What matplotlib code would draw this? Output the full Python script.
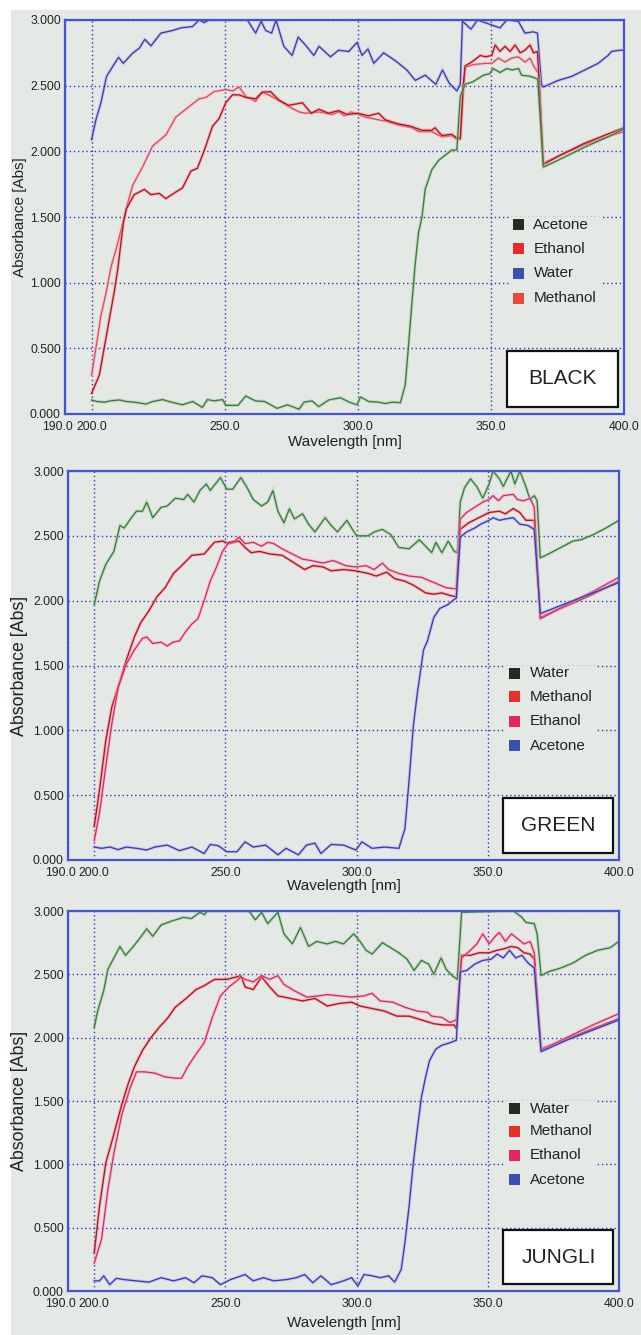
import matplotlib
matplotlib.use("Agg")
import matplotlib.pyplot as plt
from matplotlib.patches import Rectangle
from matplotlib.transforms import ScaledTranslation
import matplotlib.patheffects as pe

plt.rcParams['font.family'] = ['Liberation Sans', 'DejaVu Sans']

# ---------------- data ----------------
x_ticks = [190, 200, 250, 300, 350, 400]
x_tick_labels = ["190.0", "200.0", "250.0", "300.0", "350.0", "400.0"]
y_ticks = [0, 0.5, 1.0, 1.5, 2.0, 2.5, 3.0]
y_tick_labels = ["0.000", "0.500", "1.000", "1.500", "2.000", "2.500", "3.000"]
panel_titles = ["BLACK", "GREEN", "JUNGLI"]

# ---- Panel 1: BLACK ----
black_water_wl = [200, 201.6, 203.5, 205.6, 207.9, 210.1, 211.9, 215.4, 217.9, 220, 222.3, 226, 230.4, 233.5, 237.9,
                  240.4, 242.3, 244, 258.5, 261.6, 263.7, 265.4, 267.6, 269.3, 272.2, 275.3, 277.6, 280.3, 283.5,
                  285.4, 289.7, 292.8, 296.6, 299.7, 301.6, 303.8, 306, 309.7, 314.1, 318.4, 321.6, 325.3, 329.3,
                  331.8, 334.3, 337.2, 338.5, 339.3, 341, 342.5, 345, 353.4, 356, 360.3, 362.8, 365.9, 367.5, 369,
                  369.7, 375.3, 380.3, 385.3, 390.3, 394, 395.3, 398.4, 400]
black_water_abs = [2.09, 2.24, 2.37, 2.57, 2.645, 2.716, 2.67, 2.747, 2.785, 2.853, 2.803, 2.90, 2.92, 2.94, 2.95,
                   3.0, 2.98, 3.0, 3.0, 2.90, 2.99, 2.92, 2.90, 3.0, 2.80, 2.73, 2.87, 2.81, 2.73,
                   2.80, 2.72, 2.77, 2.76, 2.83, 2.73, 2.78, 2.67, 2.75, 2.69, 2.62, 2.54, 2.58, 2.51,
                   2.62, 2.52, 2.46, 2.51, 2.99, 2.96, 2.93, 3.0, 2.94, 3.0, 2.99, 2.90, 2.91, 2.90, 2.51,
                   2.49, 2.54, 2.57, 2.62, 2.67, 2.73, 2.76, 2.77, 2.77]

black_acetone_wl = [200, 202, 205, 207, 210.4, 213, 216, 220.4, 223, 226.6, 230, 234.1, 238, 241.6, 243.5, 246,
                    249.2, 250.4, 255, 257.9, 261.5, 265, 269.7, 273.6, 277.9, 279.8, 282.8, 285.3, 289.1, 293.5,
                    296.8, 299.7, 301, 304.1, 307.8, 310.4, 313, 316, 317.8, 318.8, 320.3, 321.6, 322.8, 324.1,
                    325.3, 327.8, 330.3, 332.8, 335.3, 337.2, 338.5, 340.3, 343.3, 347.2, 349.5, 350.9, 353.4,
                    355.9, 358, 360.4, 361.5, 365, 367.6, 369.7, 375, 385, 395, 400]
black_acetone_abs = [0.107, 0.095, 0.09, 0.10, 0.107, 0.095, 0.09, 0.076, 0.095, 0.11, 0.09, 0.07, 0.095, 0.05,
                     0.11, 0.10, 0.11, 0.066, 0.066, 0.137, 0.10, 0.095, 0.043, 0.07, 0.036, 0.09, 0.10, 0.056,
                     0.107, 0.124, 0.09, 0.07, 0.13, 0.095, 0.09, 0.08, 0.09, 0.086, 0.22, 0.46, 0.84, 1.15, 1.38,
                     1.50, 1.71, 1.86, 1.93, 1.97, 2.01, 2.01, 2.42, 2.51, 2.53, 2.58, 2.59, 2.63, 2.60, 2.63,
                     2.62, 2.63, 2.58, 2.57, 2.55, 1.88, 1.93, 2.03, 2.12, 2.17]

black_methanol_wl = [200, 202, 203.5, 205.4, 207.3, 209.8, 212.3, 213.5, 215.4, 219.1, 222.9, 227.9, 231.6, 236.6,
                     240.4, 242.9, 246, 250.4, 253, 255.4, 257.9, 261.6, 264.1, 266.5, 269.1, 274.1, 277.9, 280.4,
                     285.4, 290.3, 292.8, 295, 297.5, 302.9, 307.8, 310.3, 315.3, 320.3, 322.8, 327.8, 331.6,
                     335.3, 337.2, 338.5, 340.3, 343.3, 347.8, 350.3, 352.8, 355.3, 357.8, 360.3, 362.8, 364.7,
                     366.3, 368.1, 369.7, 375, 385, 395, 400]
black_methanol_abs = [0.297, 0.55, 0.75, 0.92, 1.12, 1.30, 1.50, 1.60, 1.74, 1.88, 2.04, 2.125, 2.26, 2.34,
                      2.40, 2.41, 2.455, 2.47, 2.46, 2.49, 2.42, 2.38, 2.45, 2.43, 2.40, 2.34, 2.30, 2.29,
                      2.30, 2.28, 2.30, 2.27, 2.30, 2.26, 2.24, 2.23, 2.20, 2.18, 2.15, 2.15, 2.11,
                      2.12, 2.09, 2.09, 2.64, 2.66, 2.67, 2.67, 2.71, 2.68, 2.71, 2.72, 2.68, 2.71,
                      2.64, 2.59, 1.91, 1.96, 2.05, 2.12, 2.15]

black_ethanol_wl = [200, 202.9, 204.8, 206.6, 208.5, 209.8, 211.9, 213, 216, 219.8, 222.3, 225.4, 227.9, 231.6,
                    234.1, 237.3, 239.7, 242.2, 245.4, 247.9, 250.4, 252.9, 255.4, 258, 261.6, 264.1, 267.2, 270.4,
                    274, 279.2, 282.5, 285.4, 289, 292.8, 296, 300, 304, 307.8, 310.3, 315, 320, 324, 327.8, 329,
                    331.6, 335.3, 337.2, 338.5, 339.5, 340.3, 342.8, 346, 348, 350.3, 351.6, 353.4, 355.3, 357.2,
                    359.1, 361, 362.8, 364.7, 366, 367.5, 368.1, 369.7, 375, 385, 395, 400]
black_ethanol_abs = [0.157, 0.297, 0.51, 0.716, 0.93, 1.10, 1.45, 1.56, 1.67, 1.71, 1.67, 1.68, 1.64, 1.69,
                     1.72, 1.85, 1.87, 2.0, 2.19, 2.25, 2.37, 2.43, 2.43, 2.41, 2.40, 2.45, 2.455, 2.39,
                     2.35, 2.37, 2.29, 2.32, 2.29, 2.31, 2.28, 2.29, 2.27, 2.29, 2.24, 2.21, 2.19, 2.16, 2.16, 2.18,
                     2.12, 2.13, 2.10, 2.10, 2.48, 2.65, 2.68, 2.73, 2.72, 2.73, 2.81, 2.76, 2.80, 2.76,
                     2.81, 2.75, 2.77, 2.81, 2.75, 2.76, 2.52, 1.90, 1.96, 2.06, 2.14, 2.18]

# ---- Panel 2: GREEN ----
green_water_wl = [200, 202, 204.4, 207.5, 209.8, 211.4, 213.8, 216.1, 218.4, 220, 222.3, 225.5, 227.8, 230.9, 234.1,
                  235.6, 238, 240.3, 242.7, 244.2, 248.1, 250.5, 252.8, 255.9, 258.3, 260.6, 263.8, 266.1, 268.1,
                  270, 272.3, 274.4, 276.3, 279.4, 281.7, 284.1, 288, 290.3, 292.7, 296.3, 298.1, 300, 304.4,
                  306.7, 309.8, 313, 316.1, 320, 323.9, 326.3, 328.6, 330.2, 332.5, 334.9, 337.2, 338.4, 339.5,
                  341.1, 343.4, 345.8, 348.1, 350.5, 352, 354.4, 355.9, 358.8, 360.3, 362.2, 364.5, 366.1, 367.7,
                  368.8, 370, 373.1, 377.8, 382.5, 385.6, 390.3, 395, 400]
green_water_abs = [1.97, 2.15, 2.28, 2.38, 2.58, 2.56, 2.63, 2.69, 2.69, 2.76, 2.64, 2.72, 2.73, 2.79, 2.78,
                   2.82, 2.76, 2.85, 2.90, 2.85, 2.95, 2.86, 2.86, 2.95, 2.87, 2.78, 2.73, 2.76, 2.85,
                   2.69, 2.60, 2.71, 2.63, 2.67, 2.59, 2.53, 2.64, 2.58, 2.53, 2.62, 2.56, 2.50, 2.50,
                   2.53, 2.55, 2.51, 2.41, 2.40, 2.47, 2.42, 2.37, 2.45, 2.37, 2.46, 2.38, 2.37, 2.76,
                   2.87, 2.94, 2.88, 2.79, 2.90, 3.0, 2.94, 2.88, 3.0, 2.90, 3.0, 2.88, 2.78, 2.81,
                   2.77, 2.33, 2.36, 2.41, 2.46, 2.47, 2.51, 2.56, 2.62]

green_methanol_wl = [200, 202, 204.4, 206.7, 209.8, 212.2, 215.3, 217.7, 220.8, 223.9, 227, 230.2, 233.3, 237.2,
                     241.9, 245.8, 248.9, 251.3, 255.2, 257.5, 259.8, 263, 266.9, 271.6, 276.3, 280.2, 283.3,
                     287.2, 290.3, 295, 299.7, 304.4, 307.5, 311.4, 314.5, 318.4, 321.6, 326.3, 329.4, 332.5,
                     335.6, 338, 339.5, 342.7, 346.6, 350.5, 354.4, 356.7, 359.7, 362.2, 364.5, 367.7, 370,
                     380, 390, 400]
green_methanol_abs = [0.26, 0.54, 0.92, 1.18, 1.38, 1.54, 1.72, 1.83, 1.92, 2.03, 2.10, 2.21, 2.27, 2.35,
                      2.36, 2.45, 2.46, 2.44, 2.46, 2.41, 2.37, 2.38, 2.36, 2.35, 2.29, 2.24, 2.27,
                      2.26, 2.23, 2.24, 2.23, 2.21, 2.19, 2.22, 2.17, 2.15, 2.12, 2.06, 2.05, 2.06,
                      2.04, 2.03, 2.55, 2.60, 2.64, 2.68, 2.69, 2.67, 2.71, 2.68, 2.62, 2.62, 1.87,
                      1.96, 2.05, 2.15]

green_ethanol_wl = [200, 202, 204.4, 206.7, 209.1, 212.2, 215.3, 218.4, 220, 222.3, 225.5, 227.8, 230, 232.5,
                    234.8, 237.2, 239.5, 241.9, 244.2, 246.6, 248.9, 251.3, 253.6, 255.2, 257.5, 260.6, 263.8,
                    266.1, 268.4, 271.6, 275.5, 279.4, 282.5, 287.2, 291.1, 295.8, 299.7, 303.6, 306.7, 309.8,
                    312.2, 316.1, 320, 324.7, 329.4, 334.1, 338, 339.5, 341.9, 345, 348.1, 350.5, 352, 354, 355.9,
                    359.7, 361.3, 363.7, 366.1, 367.7, 370, 380, 390, 400]
green_ethanol_abs = [0.15, 0.36, 0.72, 1.05, 1.33, 1.51, 1.62, 1.71, 1.72, 1.67, 1.68, 1.65, 1.68, 1.69,
                     1.76, 1.82, 1.86, 2.00, 2.15, 2.26, 2.38, 2.45, 2.46, 2.49, 2.44, 2.45, 2.42,
                     2.45, 2.44, 2.40, 2.36, 2.32, 2.31, 2.29, 2.31, 2.27, 2.26, 2.27, 2.24, 2.29,
                     2.24, 2.21, 2.19, 2.18, 2.14, 2.10, 2.09, 2.63, 2.68, 2.72, 2.76, 2.78, 2.81, 2.77, 2.81,
                     2.82, 2.78, 2.77, 2.79, 2.72, 1.86, 1.97, 2.07, 2.18]

green_acetone_wl = [200, 202.8, 206, 209.1, 212.2, 216.1, 220, 223.1, 227.8, 232.5, 237.2, 241.9, 244.2, 247.3,
                    250.5, 254.4, 257.5, 260.6, 265.3, 270, 273.1, 277.8, 280.9, 284.1, 286.4, 290.3, 295, 299.7,
                    302, 305.9, 310.6, 316.1, 318.4, 320, 321.6, 323.1, 325.5, 327, 329.4, 331.7, 334.8, 337.2,
                    338, 339.5, 341.9, 345, 347.3, 350.5, 352, 354.4, 356.7, 359.7, 362.2, 365.3, 367.7, 370,
                    380, 390, 400]
green_acetone_abs = [0.10, 0.09, 0.10, 0.08, 0.10, 0.09, 0.077, 0.10, 0.115, 0.072, 0.10, 0.05, 0.12, 0.11,
                     0.064, 0.064, 0.14, 0.10, 0.115, 0.04, 0.09, 0.04, 0.115, 0.13, 0.05, 0.12, 0.115, 0.077,
                     0.14, 0.09, 0.10, 0.09, 0.24, 0.615, 1.03, 1.28, 1.62, 1.69, 1.87, 1.94, 1.97, 2.01,
                     2.02, 2.49, 2.53, 2.56, 2.59, 2.62, 2.64, 2.62, 2.63, 2.64, 2.59, 2.58, 2.55, 1.90,
                     1.98, 2.06, 2.14]

# ---- Panel 3: JUNGLI ----
jungli_water_wl = [200, 201.3, 203.6, 205.2, 207.5, 209.8, 211.9, 214.5, 217.2, 220, 222.3, 225.5, 229.4, 234.1,
                   237, 240.3, 242, 243, 259, 261.4, 263.8, 266.1, 270, 272.3, 275.5, 278.6, 281.7, 284.8, 288.8,
                   291.9, 295, 298.9, 301.3, 303.6, 305.9, 309.8, 313, 316.1, 319.2, 321.9, 324.7, 327.5, 329.4,
                   332.2, 334.1, 336.4, 338.4, 340, 359.8, 363, 364.5, 367.7, 368.8, 370.3, 373.1, 377.8, 382.5,
                   387.2, 391.9, 396.6, 400]
jungli_water_abs = [2.08, 2.21, 2.37, 2.54, 2.63, 2.72, 2.65, 2.71, 2.78, 2.86, 2.80, 2.89, 2.92, 2.95,
                    2.94, 2.99, 2.97, 3.0, 3.0, 2.93, 2.99, 2.90, 2.99, 2.82, 2.74, 2.87, 2.72, 2.76, 2.74,
                    2.76, 2.74, 2.82, 2.76, 2.69, 2.66, 2.75, 2.71, 2.67, 2.62, 2.53, 2.61, 2.58, 2.50,
                    2.63, 2.54, 2.49, 2.46, 2.99, 3.0, 2.95, 2.91, 2.90, 2.82, 2.49, 2.52, 2.55, 2.59,
                    2.65, 2.69, 2.71, 2.76]

jungli_methanol_wl = [200, 202, 204.4, 207.5, 210.6, 213, 215.3, 218.4, 221.6, 224.7, 227.8, 230.9, 235.6, 238.8,
                      241.9, 245.8, 250.5, 254.4, 255.9, 257.5, 260.6, 263.8, 266.9, 270, 274.7, 279.4, 284.1,
                      288.8, 293.4, 298.1, 301.3, 305.9, 310.6, 315.3, 320, 324.7, 329.4, 333.3, 337.2, 338,
                      340, 343.4, 346.6, 350.5, 353.6, 355.9, 359, 361.4, 363.8, 366.1, 367.7, 370.3, 380, 390, 400]
jungli_methanol_abs = [0.30, 0.67, 1.01, 1.24, 1.48, 1.64, 1.77, 1.90, 2.00, 2.08, 2.15, 2.24, 2.32, 2.38,
                       2.41, 2.46, 2.46, 2.48, 2.49, 2.40, 2.38, 2.48, 2.40, 2.33, 2.31, 2.29, 2.31,
                       2.25, 2.27, 2.28, 2.25, 2.23, 2.21, 2.17, 2.17, 2.14, 2.11, 2.10, 2.10, 2.07,
                       2.65, 2.65, 2.67, 2.67, 2.69, 2.70, 2.72, 2.71, 2.67, 2.66, 2.62, 1.91, 1.99, 2.07, 2.15]

jungli_ethanol_wl = [200, 202.8, 205.2, 207.5, 210.6, 213.8, 216.1, 219.2, 223.1, 227, 230.9, 233.3, 235.6, 238.8,
                     241.9, 245, 248.1, 251.3, 254.4, 255.9, 257.5, 260.6, 263.8, 266.9, 270, 272.3, 276.3, 281,
                     285.6, 288.8, 293.4, 298.1, 302.8, 305.9, 309, 313.8, 318.4, 323.1, 327, 328.6, 332.5, 335.6,
                     338, 340, 343.4, 345.8, 348.1, 350.5, 352.8, 354.4, 356.7, 359, 361.4, 363.8, 366.1, 367.7,
                     370.3, 380, 390, 400]
jungli_ethanol_abs = [0.22, 0.41, 0.80, 1.09, 1.40, 1.61, 1.73, 1.73, 1.72, 1.69, 1.68, 1.68, 1.77, 1.87,
                      1.96, 2.16, 2.33, 2.40, 2.45, 2.48, 2.46, 2.44, 2.49, 2.46, 2.49, 2.42, 2.37, 2.32,
                      2.33, 2.34, 2.33, 2.32, 2.33, 2.35, 2.29, 2.28, 2.24, 2.21, 2.20, 2.17, 2.16, 2.12,
                      2.14, 2.63, 2.69, 2.74, 2.82, 2.74, 2.80, 2.83, 2.76, 2.82, 2.78, 2.74, 2.76, 2.67,
                      1.90, 2.00, 2.10, 2.19]

jungli_acetone_wl = [200, 202, 203.6, 205.9, 208.4, 211.4, 216.1, 220.8, 225.5, 230.2, 234.8, 238, 241.1, 245,
                     248.1, 251.9, 257.5, 260.6, 264.5, 268.4, 273.1, 277, 280.2, 283.3, 286.4, 290.3, 295, 298.1,
                     300.5, 302.8, 305.9, 309, 312.2, 314.5, 317, 318.4, 320, 321.6, 323.1, 324.7, 326.3, 327.8,
                     330.2, 332.5, 335.6, 338, 339.5, 341.9, 345, 348.1, 351.3, 353.6, 355.9, 358.3, 360.6, 363,
                     365.3, 367.7, 370.3, 380, 390, 400]
jungli_acetone_abs = [0.08, 0.08, 0.12, 0.05, 0.10, 0.09, 0.08, 0.07, 0.105, 0.08, 0.105, 0.065, 0.12, 0.105,
                      0.05, 0.09, 0.13, 0.08, 0.105, 0.08, 0.09, 0.105, 0.13, 0.065, 0.12, 0.05, 0.08, 0.105,
                      0.04, 0.13, 0.12, 0.105, 0.12, 0.07, 0.17, 0.38, 0.67, 1.01, 1.27, 1.53, 1.69, 1.82,
                      1.91, 1.94, 1.96, 1.98, 2.52, 2.53, 2.58, 2.61, 2.62, 2.66, 2.63, 2.69, 2.63, 2.65,
                      2.59, 2.55, 1.89, 1.98, 2.06, 2.14]

# legend names and swatch colours per panel
black_legend_names = ["Acetone", "Ethanol", "Water", "Methanol"]
black_legend_colors = ["#1f2e1f", "#e8282a", "#3b4fae", "#e84a3a"]
other_legend_names = ["Water", "Methanol", "Ethanol", "Acetone"]
other_legend_colors = ["#1f2e1f", "#e8302a", "#e3285f", "#3b4fae"]

# line styles (colour, halo)
GREEN_LINE = ("#3b7b3b", "#a6cba6")
BLUE_LINE = ("#3a3aae", "#b4aeea")
RED_DARK = ("#b4101e", "#f2909a")
RED_LIGHT = ("#e04a5a", "#f6b4bc")
PINK = ("#d82a62", "#f6a8c4")

panels = [
    dict(series=[(black_water_wl, black_water_abs, BLUE_LINE),
                 (black_methanol_wl, black_methanol_abs, RED_LIGHT),
                 (black_ethanol_wl, black_ethanol_abs, RED_DARK),
                 (black_acetone_wl, black_acetone_abs, GREEN_LINE)],
         names=black_legend_names, colors=black_legend_colors,
         rect=(65, 20, 624, 414), ylabel_size=11),
    dict(series=[(green_water_wl, green_water_abs, GREEN_LINE),
                 (green_methanol_wl, green_methanol_abs, RED_DARK),
                 (green_ethanol_wl, green_ethanol_abs, PINK),
                 (green_acetone_wl, green_acetone_abs, BLUE_LINE)],
         names=other_legend_names, colors=other_legend_colors,
         rect=(68, 471, 619, 860), ylabel_size=12.8),
    dict(series=[(jungli_water_wl, jungli_water_abs, GREEN_LINE),
                 (jungli_methanol_wl, jungli_methanol_abs, RED_DARK),
                 (jungli_ethanol_wl, jungli_ethanol_abs, PINK),
                 (jungli_acetone_wl, jungli_acetone_abs, BLUE_LINE)],
         names=other_legend_names, colors=other_legend_colors,
         rect=(68, 911, 619, 1291), ylabel_size=12.8),
]

# ---------------- figure ----------------
W, H = 641, 1335
fig = plt.figure(figsize=(W / 100, H / 100), dpi=100, facecolor="white")
BG = "#e4e9e6"
fig.patches.append(Rectangle((11 / W, 0), 1 - 11 / W, 1 - 10 / H, transform=fig.transFigure,
                             facecolor=BG, edgecolor="none", zorder=-5))

FRAME = "#4654cc"
GRID = "#2c2cae"
TXT = "#222222"

for i, p in enumerate(panels):
    x0, y0, x1, y1 = p["rect"]
    ax = fig.add_axes([x0 / W, 1 - y1 / H, (x1 - x0) / W, (y1 - y0) / H])
    ax.set_facecolor(BG)
    ax.set_xlim(190, 400)
    ax.set_ylim(0, 3)
    ax.set_xticks(x_ticks)
    ax.set_xticklabels(x_tick_labels)
    ax.set_yticks(y_ticks)
    ax.set_yticklabels(y_tick_labels)
    ax.tick_params(length=0, labelsize=8.7, colors=TXT, pad=3)
    ax.tick_params(axis="x", pad=5)
    for sp in ax.spines.values():
        sp.set_color(FRAME)
        sp.set_linewidth(1.6)
        sp.set_zorder(6)
    ax.set_axisbelow(True)
    ax.grid(True, color=GRID, linestyle=(0, (1, 2)), linewidth=1.0, alpha=0.95)

    # shift "190.0" label to the left like reference
    lbl = ax.get_xticklabels()[0]
    lbl.set_transform(lbl.get_transform() + ScaledTranslation(-8 / 100, 0, fig.dpi_scale_trans))

    for wl, ab, (c, halo) in p["series"]:
        ax.plot(wl, ab, color=c, linewidth=0.95, zorder=3, solid_joinstyle="miter",
                path_effects=[pe.Stroke(linewidth=2.4, foreground=halo, alpha=0.5), pe.Normal()])

    # legend (manual)
    ax.add_patch(Rectangle((0.795, 0.27), 0.165, 0.23, transform=ax.transAxes,
                           facecolor=BG, edgecolor="none", zorder=4))
    row_y = [1.44 / 3, 1.26 / 3, 1.07 / 3, 0.88 / 3]
    sw = 11 / (x1 - x0)
    sh = 11 / (y1 - y0)
    for ry, name, col in zip(row_y, p["names"], p["colors"]):
        ax.add_patch(Rectangle((0.801, ry - sh / 2), sw, sh, transform=ax.transAxes,
                               facecolor=col, edgecolor="none", zorder=5))
        ax.text(0.838, ry, name, transform=ax.transAxes, ha="left", va="center",
                fontsize=11, color=TXT, zorder=5)

    # sample box
    ax.add_patch(Rectangle((0.79, 0.018), 0.20, 0.142, transform=ax.transAxes,
                           facecolor="white", edgecolor="#111111", linewidth=1.6, zorder=5))
    ax.text(0.89, 0.089, panel_titles[i], transform=ax.transAxes, ha="center", va="center",
            fontsize=15, color=TXT, zorder=6)

    ax.set_xlabel("Wavelength [nm]", fontsize=11, color=TXT)
    ax.set_ylabel("Absorbance [Abs]", fontsize=p["ylabel_size"], color=TXT)
    xl_center = [442, 886, 1323][i]
    ax.xaxis.set_label_coords(0.5, (y1 - xl_center) / (y1 - y0))
    ax.xaxis.label.set_verticalalignment("center")
    ax.yaxis.set_label_coords((20 - x0) / (x1 - x0), 0.5)
    ax.yaxis.label.set_verticalalignment("center")

fig.savefig("out.png", dpi=100, facecolor="white")
